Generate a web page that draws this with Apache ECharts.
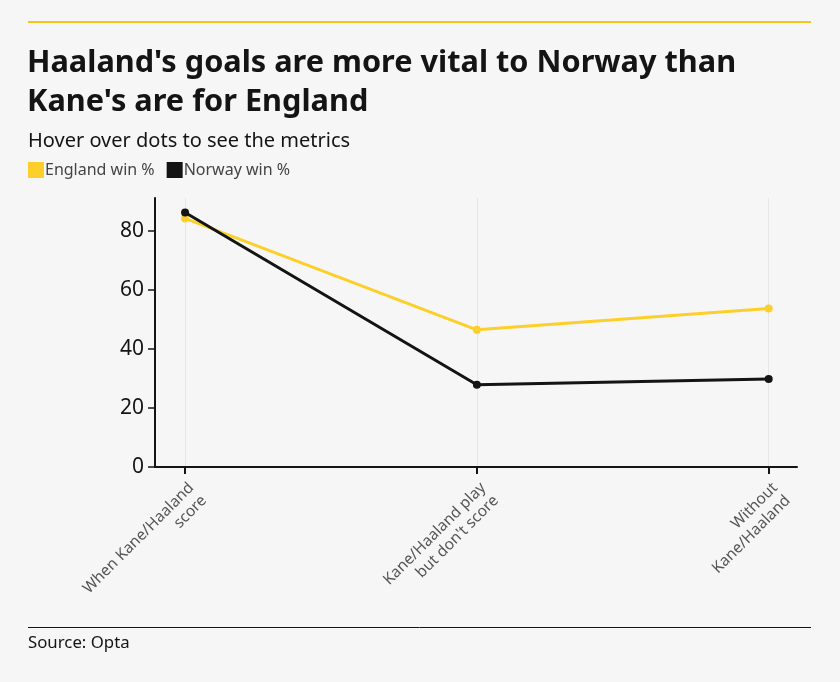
<!DOCTYPE html>
<html>
<head>
<meta charset="utf-8">
<script src="https://cdn.jsdelivr.net/npm/echarts@6/dist/echarts.min.js"></script>
<style>
	html, body { margin: 0; padding: 0; background: #f6f6f6; }
	#chart { width: 840px; height: 682px; }
</style>
</head>
<body>
<div id="chart"></div>
<script>
// categories along the x axis
const categories = [
	'When Kane/Haaland\nscore',
	'Kane/Haaland play\nbut don\'t score',
	'Without\nKane/Haaland'
];
// win percentages
const englandWin = [ 84.1, 46.4, 53.6 ];
const norwayWin = [ 86.1, 27.8, 29.8 ];
const yTicks = [ 0, 20, 40, 60, 80 ];

const FONT = '"Noto Sans", sans-serif';

// pair each value with its category index for the value x axis
const toPoints = ( values ) => values.map( ( v, i ) => [ i, v ] );

const chart = echarts.init( document.getElementById( 'chart' ) );

chart.setOption( {
	backgroundColor: '#f6f6f6',
	animation: false,
	title: [
		{
			text: 'Haaland\'s goals are more vital to Norway than\nKane\'s are for England',
			left: 27,
			top: 44,
			padding: 0,
			textStyle: {
				fontFamily: FONT,
				fontSize: 30.7,
				fontWeight: 'bold',
				color: '#141414',
				lineHeight: 39
			}
		},
		{
			text: 'Hover over dots to see the metrics',
			left: 28,
			top: 131,
			padding: 0,
			textStyle: {
				fontFamily: FONT,
				fontSize: 20,
				fontWeight: 'normal',
				color: '#141414'
			}
		},
		{
			text: 'Source: Opta',
			left: 28,
			top: 635,
			padding: 0,
			textStyle: {
				fontFamily: FONT,
				fontSize: 16.8,
				fontWeight: 'normal',
				color: '#141414'
			}
		}
	],
	legend: {
		left: 28,
		top: 162,
		padding: 0,
		icon: 'rect',
		itemWidth: 16,
		itemHeight: 16,
		itemGap: 12,
		textStyle: {
			fontFamily: FONT,
			fontSize: 16,
			color: '#444',
			padding: [ 0, 0, 0, -4 ]
		},
		data: [ 'England win %', 'Norway win %' ]
	},
	graphic: [
		{
			type: 'line',
			shape: { x1: 28, y1: 22, x2: 811, y2: 22 },
			style: { stroke: '#f5c518', lineWidth: 2 }
		},
		{
			type: 'line',
			shape: { x1: 28, y1: 627.5, x2: 811, y2: 627.5 },
			style: { stroke: '#141414', lineWidth: 1 }
		}
	],
	grid: {
		left: 155,
		right: 43,
		top: 198,
		bottom: 215
	},
	xAxis: {
		type: 'value',
		min: -0.103,
		max: 2.097,
		axisLine: { onZero: false, lineStyle: { color: '#141414', width: 2 } },
		axisTick: {
			customValues: [ 0, 1, 2 ],
			length: 7,
			lineStyle: { color: '#141414', width: 2 }
		},
		splitLine: { show: true, lineStyle: { color: '#e6e6e6', width: 1 } },
		axisLabel: {
			customValues: [ 0, 1, 2 ],
			rotate: 45,
			margin: 12,
			verticalAlign: 'top',
			fontFamily: FONT,
			fontSize: 15.5,
			color: '#555',
			lineHeight: 18,
			formatter: ( v ) => categories[ Math.round( v ) ]
		}
	},
	yAxis: {
		type: 'value',
		min: 0,
		max: 91,
		axisLine: { show: true, onZero: false, lineStyle: { color: '#141414', width: 2 } },
		axisTick: {
			show: true,
			customValues: yTicks,
			length: 7,
			lineStyle: { color: '#141414', width: 1.5 }
		},
		splitLine: { show: false },
		axisLabel: {
			customValues: yTicks,
			margin: 11,
			fontFamily: FONT,
			fontSize: 21,
			color: '#141414'
		}
	},
	series: [
		{
			name: 'England win %',
			type: 'line',
			data: toPoints( englandWin ),
			symbol: 'circle',
			symbolSize: 8,
			color: '#fdcf2a',
			lineStyle: { width: 3, color: '#fdcf2a' },
			z: 2
		},
		{
			name: 'Norway win %',
			type: 'line',
			data: toPoints( norwayWin ),
			symbol: 'circle',
			symbolSize: 8,
			color: '#141414',
			lineStyle: { width: 3, color: '#141414' },
			z: 3
		}
	]
} );
</script>
</body>
</html>
